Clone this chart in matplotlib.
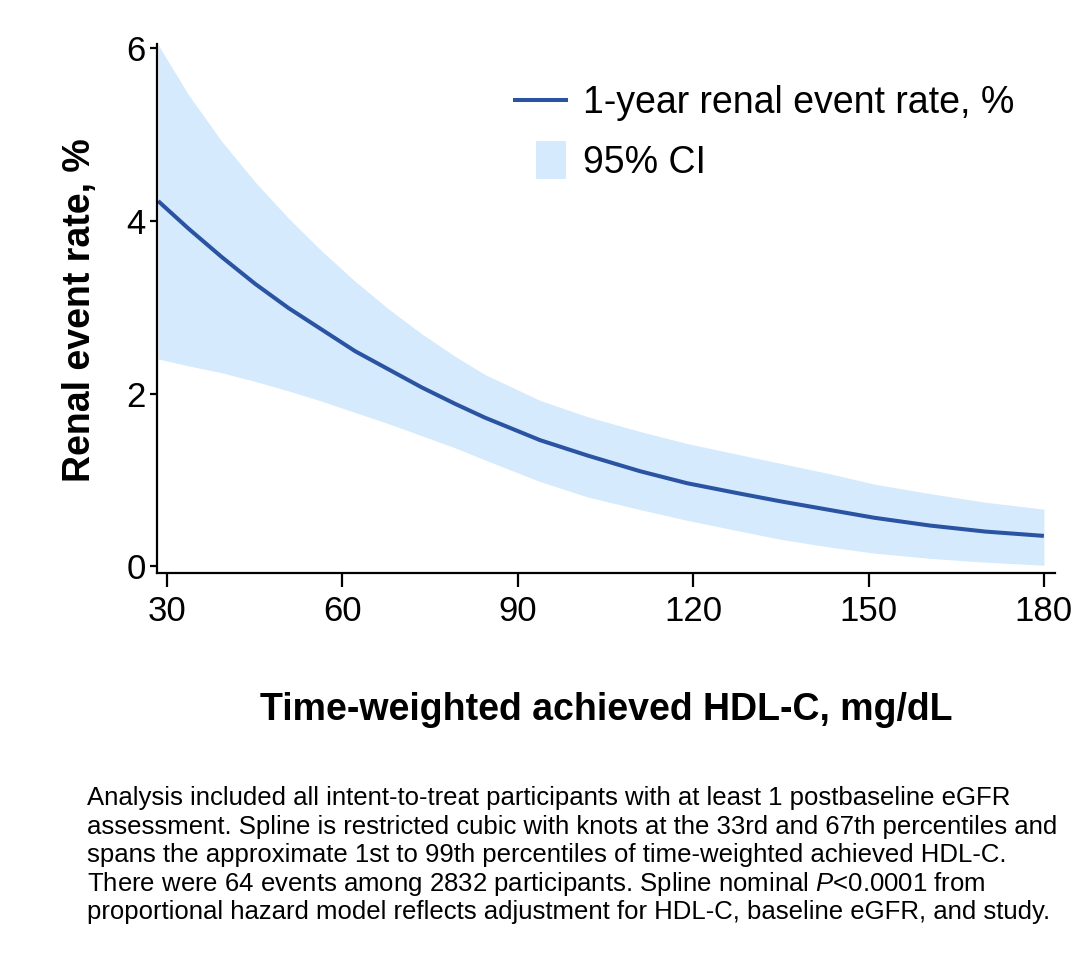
import matplotlib
matplotlib.use("Agg")
import matplotlib.pyplot as plt
import matplotlib.patches as mpatches
from matplotlib.legend_handler import HandlerPatch
from matplotlib.lines import Line2D

plt.rcParams["font.family"] = ["Liberation Sans", "DejaVu Sans"]
plt.rcParams["mathtext.fontset"] = "custom"
plt.rcParams["mathtext.rm"] = "Liberation Sans"
plt.rcParams["mathtext.it"] = "Liberation Sans:italic"

# values
hdl = [28.5, 33.7, 39.4, 45.1, 50.8, 56.5, 62.2, 67.9, 73.6, 79.3, 84.4, 93.8,
       102, 110.9, 119, 128, 135, 143.4, 151, 160.5, 170, 180]
rate = [4.23, 3.91, 3.58, 3.27, 2.99, 2.74, 2.49, 2.28, 2.07, 1.88, 1.72, 1.46,
        1.28, 1.10, 0.96, 0.84, 0.75, 0.65, 0.56, 0.47, 0.40, 0.35]
ci_upper = [6.04, 5.46, 4.92, 4.45, 4.03, 3.65, 3.30, 2.98, 2.69, 2.43, 2.22,
            1.92, 1.73, 1.56, 1.42, 1.29, 1.19, 1.07, 0.95, 0.84, 0.74, 0.66]
ci_lower = [2.40, 2.32, 2.24, 2.14, 2.03, 1.91, 1.78, 1.65, 1.51, 1.37, 1.23,
            0.98, 0.80, 0.655, 0.53, 0.405, 0.31, 0.22, 0.15, 0.09, 0.045, 0.01]

x_ticks = [30, 60, 90, 120, 150, 180]
y_ticks = [0, 2, 4, 6]

footnote = [
    "Analysis included all intent-to-treat participants with at least 1 postbaseline eGFR",
    "assessment. Spline is restricted cubic with knots at the 33rd and 67th percentiles and",
    "spans the approximate 1st to 99th percentiles of time-weighted achieved HDL-C.",
    "There were 64 events among 2832 participants. Spline nominal $\\mathit{P}$<0.0001 from",
    "proportional hazard model reflects adjustment for HDL-C, baseline eGFR, and study.",
]

LINE_COLOR = "#2a53a2"
FILL_COLOR = "#d5eafc"
W, H = 1084, 955


def square_patch(legend, orig_handle, xdescent, ydescent, width, height, fontsize):
    side = height * 1.42
    return mpatches.Rectangle((width - side * 0.81 - xdescent, -ydescent + (height - side) / 2),
                              side * 0.81, side)


fig = plt.figure(figsize=(W / 100, H / 100), dpi=100)
ax = fig.add_axes([157 / W, 1 - 573 / H, 898 / W, 529 / H])

ax.fill_between(hdl, ci_lower, ci_upper, color=FILL_COLOR, linewidth=0)
ax.plot(hdl, rate, color=LINE_COLOR, linewidth=2.9, solid_capstyle="butt",
        solid_joinstyle="round")

ax.set_xlim(28.3, 181.9)
ax.set_ylim(-0.08, 6.05)
ax.set_xticks(x_ticks)
ax.set_yticks(y_ticks)
for side in ("top", "right"):
    ax.spines[side].set_visible(False)
for side in ("left", "bottom"):
    ax.spines[side].set_linewidth(1.6)
ax.tick_params(axis="x", length=10, width=1.6, pad=6, labelsize=25)
ax.tick_params(axis="y", length=5, width=1.6, pad=3, labelsize=25)

fig.text(80 / W, 1 - 310 / H, "Renal event rate, %", rotation=90, fontsize=27,
         fontweight="bold", ha="center", va="center")
fig.text(606 / W, 1 - 710 / H, "Time-weighted achieved HDL-C, mg/dL", fontsize=27,
         fontweight="bold", ha="center", va="center")

handles = [Line2D([], [], color=LINE_COLOR, linewidth=2.9),
           mpatches.Patch(color=FILL_COLOR, linewidth=0)]
fig.legend(handles, ["1-year renal event rate, %", "95% CI"],
           loc="upper left", bbox_to_anchor=(515 / W, 1 - 85 / H),
           frameon=False, fontsize=27, borderpad=0, borderaxespad=0,
           handlelength=1.36, handletextpad=0.45, labelspacing=0.64,
           handler_map={mpatches.Patch: HandlerPatch(patch_func=square_patch)})

for i, line in enumerate(footnote):
    fig.text(87 / W, 1 - (798 + i * 28.6) / H, line, fontsize=18.5,
             ha="left", va="center")

fig.savefig("out.png", dpi=100)
